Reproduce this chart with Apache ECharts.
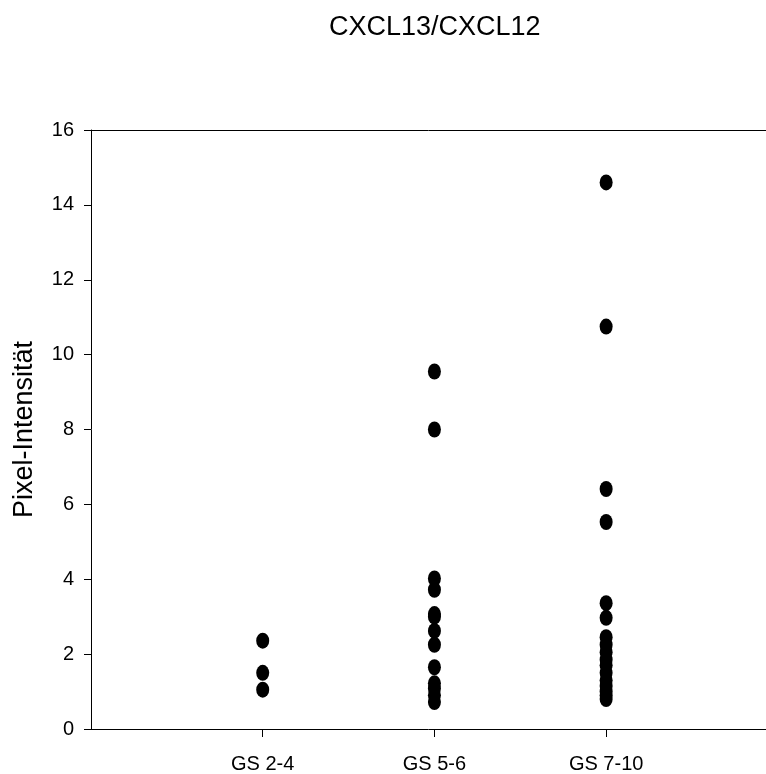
<!DOCTYPE html>
<html>
<head>
<meta charset="utf-8">
<script src="https://cdn.jsdelivr.net/npm/echarts@6/dist/echarts.min.js"></script>
<style>html,body{margin:0;padding:0;background:#fff}#c{width:766px;height:774px}</style>
</head>
<body>
<div id="c"></div>
<script>
var categories = ['GS 2-4', 'GS 5-6', 'GS 7-10'];
var gs24 = [2.36, 1.50, 1.05];
var gs56 = [9.55, 8.0, 4.02, 3.72, 3.07, 3.0, 2.62, 2.25, 1.65, 1.22, 1.08, 0.9, 0.72];
var gs710 = [14.6, 10.75, 6.41, 5.53, 3.36, 2.97, 2.45, 2.25, 2.05, 1.85, 1.7, 1.5, 1.3, 1.15, 1.0, 0.9, 0.8];
var yTicks = [0, 2, 4, 6, 8, 10, 12, 14, 16];

var groups = [gs24, gs56, gs710];
var points = [];
groups.forEach(function (g, i) {
  g.forEach(function (v) { points.push([i + 1, v]); });
});

var font = 'Liberation Sans, Arial, sans-serif';
var chart = echarts.init(document.getElementById('c'));
chart.setOption({
  animation: false,
  title: {
    text: 'CXCL13/CXCL12',
    left: 324, top: 9,
    textStyle: { fontFamily: font, fontSize: 27, fontWeight: 'normal', color: '#000' }
  },
  grid: { left: 91, top: 130, right: 0, bottom: 45 },
  xAxis: [{
    type: 'value', min: 0, max: 3.931, interval: 1,
    splitLine: { show: false },
    axisLine: { lineStyle: { color: '#000', width: 1 } },
    axisTick: { show: true, length: 8, customValues: [1, 2, 3], lineStyle: { color: '#000' } },
    axisLabel: {
      customValues: [1, 2, 3],
      margin: 25,
      fontFamily: font, fontSize: 20, color: '#000',
      formatter: function (v) { return categories[Math.round(v) - 1] || ''; }
    }
  }, {
    type: 'value', position: 'top', min: 0, max: 3.931,
    splitLine: { show: false },
    axisLine: { show: true, lineStyle: { color: '#000', width: 1 } },
    axisTick: { show: false }, axisLabel: { show: false }
  }],
  yAxis: {
    type: 'value', min: yTicks[0], max: yTicks[yTicks.length - 1], interval: 2,
    name: 'Pixel-Intensität', nameLocation: 'middle', nameGap: 53,
    nameTextStyle: { fontFamily: font, fontSize: 27, color: '#000' },
    splitLine: { show: false },
    axisLine: { show: true, lineStyle: { color: '#000', width: 1 } },
    axisTick: { show: true, length: 7, lineStyle: { color: '#000' } },
    axisLabel: { margin: 17, fontFamily: font, fontSize: 20, color: '#000' }
  },
  series: [{
    type: 'scatter',
    data: points,
    symbol: 'circle',
    symbolSize: [13, 16],
    itemStyle: { color: '#000', opacity: 1 }
  }]
});
</script>
</body>
</html>
